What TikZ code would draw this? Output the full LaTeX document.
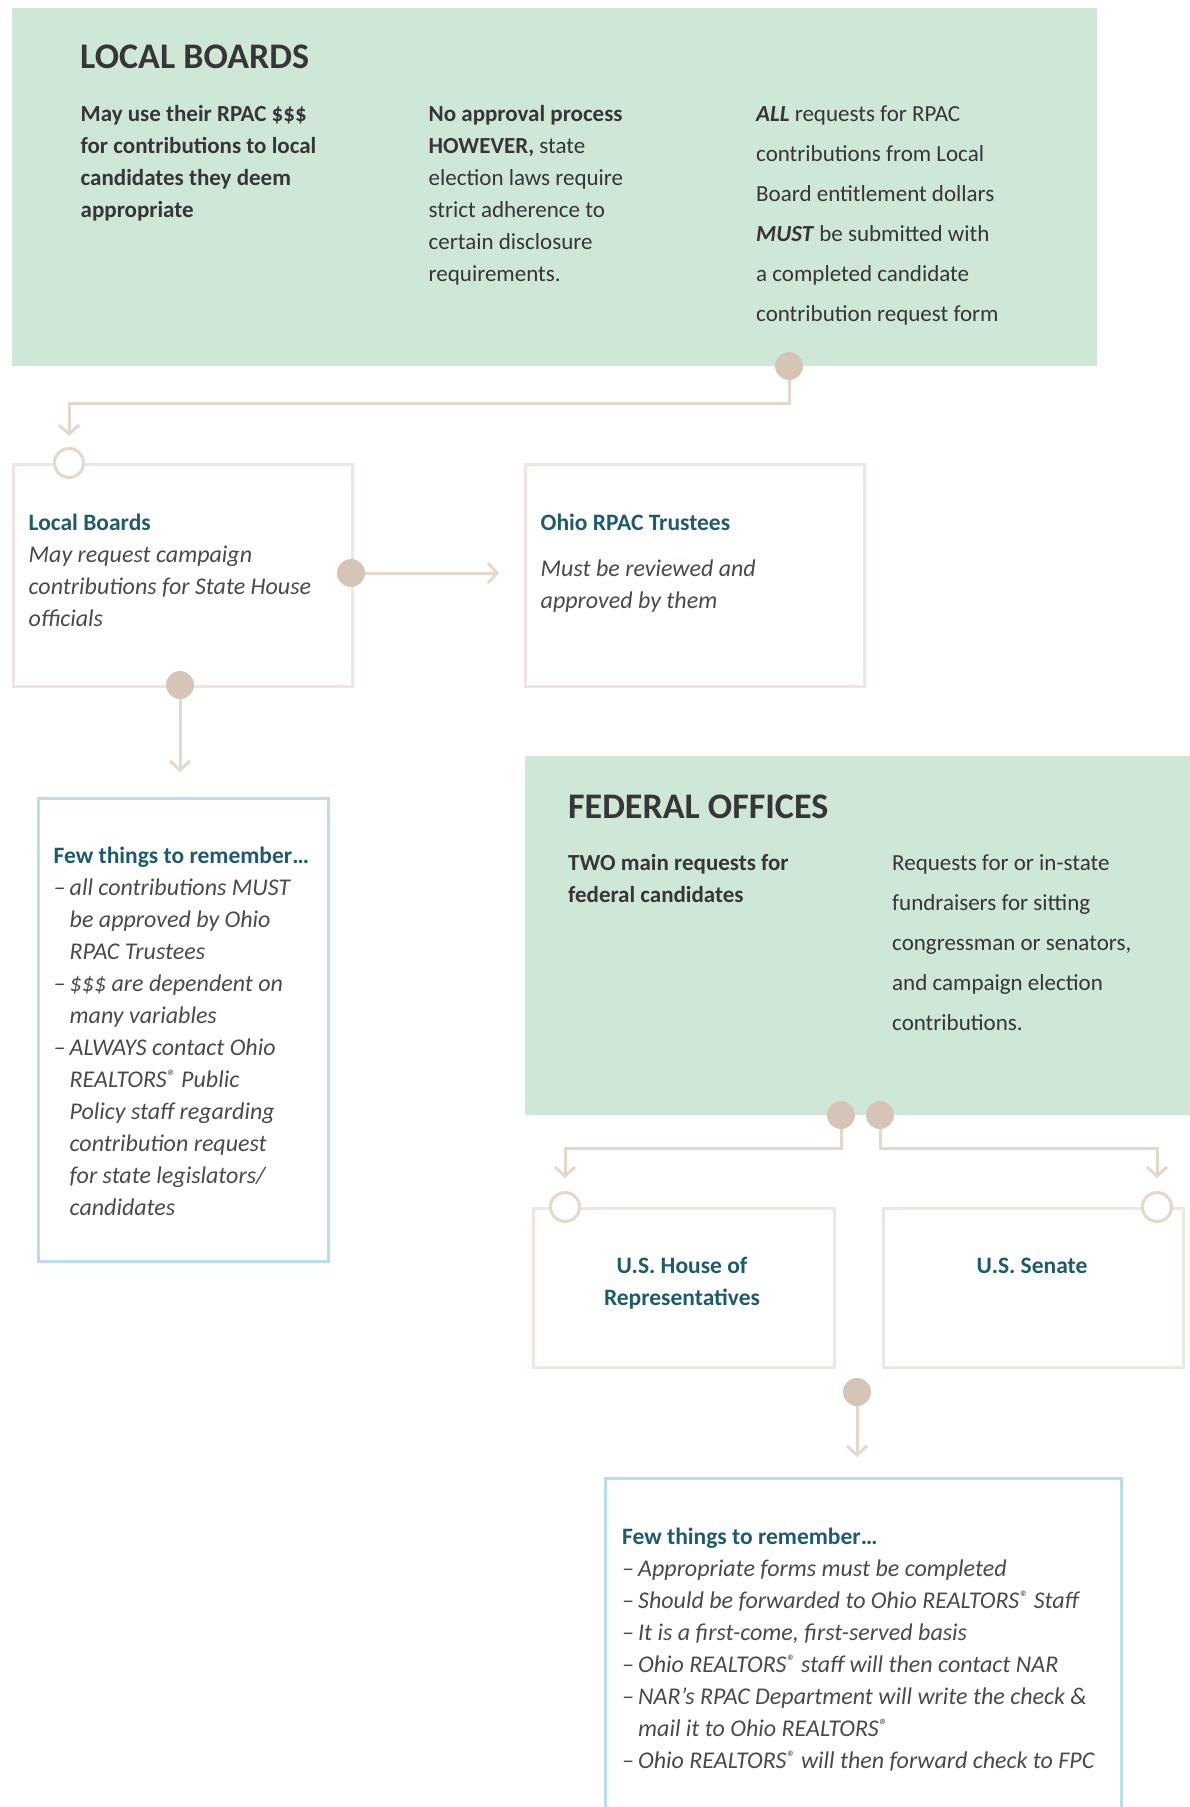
\documentclass[tikz,border=0pt]{standalone}
\usepackage{fontspec}
\setmainfont{Carlito}
\usepackage{xcolor}
\usepackage{tikz}
\usetikzlibrary{arrows.meta,positioning}

\definecolor{mint}{HTML}{CFE7D7}
\definecolor{sand}{HTML}{D6C5B7}
\definecolor{wire}{HTML}{E4D7CB}
\definecolor{frame}{HTML}{EEE6DF}
\definecolor{sky}{HTML}{BFDBF0}
\definecolor{teal}{HTML}{1E5A70}
\definecolor{ink}{HTML}{363636}
\definecolor{slate}{HTML}{4B4949}

\newcommand{\bodyfont}{\fontsize{23}{32}\selectfont}
\newcommand{\widefont}{\fontsize{23}{40}\selectfont}
\newcommand{\slantfont}{\fontsize{24}{32}\selectfont\itshape}
\newcommand{\titlefont}{\fontsize{23.5}{32}\selectfont\upshape\bfseries}
\newcommand{\itm}{\makebox[16pt][l]{–}}
\newcommand{\cont}{\hspace*{16pt}}
\newcommand{\reg}{\raisebox{0.35ex}{\fontsize{18}{18}\selectfont ®}}

\begin{document}
\begin{tikzpicture}[x=1pt, y=-1pt,
    every node/.style={font=\bodyfont, inner sep=0},
    panel/.style={fill=mint, anchor=north west},
    card/.style={draw=frame, line width=3pt, fill=white, anchor=north west},
    note/.style={draw=sky, line width=3pt, fill=white, anchor=north west},
    dot/.style={circle, fill=sand, minimum size=28pt},
    ring/.style={circle, draw=wire, fill=white, line width=3pt, minimum size=29pt},
    arr/.style={-{Straight Barb[length=9pt, width=20pt]}, wire, line width=3pt},
    txt/.style={anchor=base west, align=left, text=ink},
    head/.style={anchor=base west, font=\fontsize{36}{40}\selectfont\bfseries, text=ink}
]
  \useasboundingbox (0,0) rectangle (1190,1807);
  \clip (0,0) rectangle (1190,1807);

  % local boards panel (text nodes sit on the baseline of their last line)
  \node[panel, minimum width=1085.5pt, minimum height=358pt] (local) at (11.5,8) {};
  \node[head] (localT) at (80,68) {LOCAL BOARDS};
  \node[txt, font=\bodyfont\bfseries] (localA) at (80.5,217)
    {May use their RPAC \$\$\$\\for contributions to local\\candidates they deem\\appropriate};
  \node[txt] (localB) at (428.5,281)
    {\textbf{No approval process}\\\textbf{HOWEVER,} state\\election laws require\\strict adherence to\\certain disclosure\\requirements.};
  \node[txt, font=\widefont] (localC) at (756,321)
    {\textbf{\textit{ALL}} requests for RPAC\\contributions from Local\\Board entitlement dollars\\\textbf{\textit{MUST}} be submitted with\\a completed candidate\\contribution request form};

  % state level cards
  \node[card, minimum width=339.5pt, minimum height=222pt] (boards) at (11.5,463) {};
  \node[card, minimum width=339pt, minimum height=222pt] (trustees) at (524,463) {};
  \node[txt, text=slate, font=\slantfont] (boardsT) at (28.5,626)
    {\textcolor{teal}{\titlefont Local Boards}\\May request campaign\\contributions for State House\\officials};
  \node[txt, text=slate, font=\slantfont] (trusteesT) at (540.5,608)
    {\textcolor{teal}{\titlefont Ohio RPAC Trustees}\\[14pt]Must be reviewed and\\approved by them};

  \node[note, minimum width=290pt, minimum height=463pt] (stateNote) at (36.5,797) {};
  \node[txt, text=slate, font=\slantfont] (stateNoteT) at (53.5,1215)
    {\textcolor{teal}{\titlefont Few things to remember…}\\
     \itm all contributions MUST\\\cont be approved by Ohio\\\cont RPAC Trustees\\
     \itm \$\$\$ are dependent on\\\cont many variables\\
     \itm ALWAYS contact Ohio\\\cont REALTORS\reg{} Public\\\cont Policy staff regarding\\
     \cont contribution request\\\cont for state legislators/\\\cont candidates};

  % federal offices panel
  \node[panel, minimum width=700pt, minimum height=359pt] (federal) at (525,756) {};
  \node[head] (federalT) at (568,818) {FEDERAL OFFICES};
  \node[txt, font=\bodyfont\bfseries] (federalA) at (568,902)
    {TWO main requests for\\federal candidates};
  \node[txt, font=\widefont] (federalB) at (892,1030)
    {Requests for or in-state\\fundraisers for sitting\\congressman or senators,\\and campaign election\\contributions.};

  \node[card, minimum width=300.5pt, minimum height=159pt] (house) at (532,1207) {};
  \node[card, minimum width=300pt, minimum height=159pt] (senate) at (882,1207) {};
  \node[anchor=base, align=center, text=teal, font=\titlefont] (houseT) at (682,1305)
    {U.S. House of\\Representatives};
  \node[anchor=base, text=teal, font=\titlefont] (senateT) at (1032,1273) {U.S. Senate};

  \node[note, minimum width=516pt, minimum height=360pt] (fedNote) at (604,1477) {};
  \node[txt, text=slate, font=\slantfont] (fedNoteT) at (622,1768)
    {\textcolor{teal}{\titlefont Few things to remember…}\\
     \itm Appropriate forms must be completed\\
     \itm Should be forwarded to Ohio REALTORS\reg{} Staff\\
     \itm It is a first-come, first-served basis\\
     \itm Ohio REALTORS\reg{} staff will then contact NAR\\
     \itm NAR’s RPAC Department will write the check \&\\\cont mail it to Ohio REALTORS\reg\\
     \itm Ohio REALTORS\reg{} will then forward check to FPC};

  % dots and rings
  \node[dot] (d1) at (789,366) {};
  \node[ring] (r1) at (69,463) {};
  \node[dot] (d2) at (351,573) {};
  \node[dot] (d3) at (180,685) {};
  \node[dot] (d4) at (841,1115) {};
  \node[dot] (d5) at (880,1115) {};
  \node[ring] (r2) at (565,1207) {};
  \node[ring] (r3) at (1157,1207) {};
  \node[dot] (d6) at (857,1392) {};

  % connectors
  \draw[arr, shorten >=11pt] (d1) -- ++(0,37) -| (r1);
  \draw[arr, shorten >=25pt] (d2) -- (d2 -| trustees.west);
  \draw[arr, shorten >=25pt] (d3) -- (d3 |- stateNote.north);
  \draw[arr, shorten >=13pt] (d4) -- ++(0,33) -| (r2);
  \draw[arr, shorten >=13pt] (d5) -- ++(0,33) -| (r3);
  \draw[arr, shorten >=20pt] (d6) -- (d6 |- fedNote.north);
\end{tikzpicture}
\end{document}
